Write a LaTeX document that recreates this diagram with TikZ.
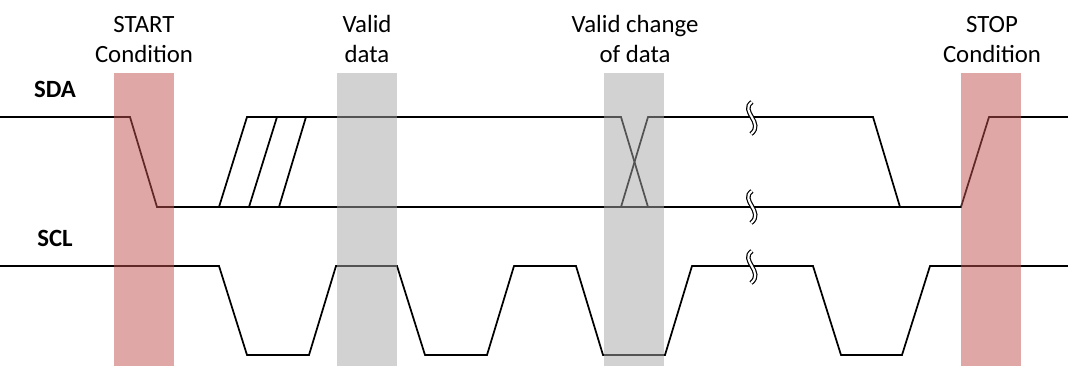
\documentclass[tikz,border=0pt]{standalone}
\usepackage{fontspec}
\setmainfont{Carlito}
\usepackage{tikz}
\usetikzlibrary{positioning, calc}
\colorlet{lineColor}{black}
\definecolor{condColor}{RGB}{192,80,77}
\definecolor{dataColor}{RGB}{166,166,166}
\tikzstyle{wave}=[draw=lineColor, line width=1.3pt, line join=miter]
\tikzstyle{condBar}=[fill=condColor, fill opacity=0.5]
\tikzstyle{dataBar}=[fill=dataColor, fill opacity=0.5]
\tikzstyle{barLabel}=[align=center, font=\fontsize{18.6}{22.5}\selectfont, anchor=base]
\tikzstyle{sigLabel}=[font=\fontsize{18.6}{22.5}\selectfont\bfseries]
\tikzstyle{breakMark}=[draw=lineColor, line width=0.9pt, double=white, double distance=1.6pt]

\begin{document}
\begin{tikzpicture}[x=0.75pt, y=-0.75pt]
      \useasboundingbox (0,0) rectangle (1068,366);
      % signal names
      \node(sda) [sigLabel] at (55,89) {SDA};
      \node(scl) [sigLabel] at (55,238) {SCL};
      % SDA
      \draw [wave] (0,117) -- (130,117) -- (157,207) -- (961,207) -- (989,117) -- (1068,117);
      \draw [wave] (219,207) -- (247,117) -- (621,117) -- (648,207);
      \draw [wave] (249,207) -- (277,117);
      \draw [wave] (279,207) -- (306,117);
      \draw [wave] (621,207) -- (648,117) -- (873,117) -- (900,207);
      % SCL
      \draw [wave] (0,266) -- (219,266) -- (247,355) -- (309,355) -- (336,266)
        -- (397,266) -- (425,355) -- (487,355) -- (514,266) -- (576,266)
        -- (603,355) -- (665,355) -- (692,266) -- (813,266) -- (841,355)
        -- (902,355) -- (930,266) -- (1068,266);
      % breaks
      \draw [breakMark] (752,102) .. controls (739,111) and (765,123) .. (751,134);
      \draw [breakMark] (752,191) .. controls (739,200) and (765,212) .. (751,223);
      \draw [breakMark] (752,251) .. controls (739,260) and (765,272) .. (751,283);
      % bars
      \fill [condBar] (114,73) rectangle (174,366);
      \fill [dataBar] (337,73) rectangle (397,366);
      \fill [dataBar] (604,73) rectangle (664,366);
      \fill [condBar] (961,73) rectangle (1021,366);
      % labels
      \node(startLbl) [barLabel] at (144,63) {START\\Condition};
      \node(validLbl) [barLabel] at (367,63) {Valid\\data};
      \node(changeLbl) [barLabel] at (635,63) {Valid change\\of data};
      \node(stopLbl) [barLabel] at (992,63) {STOP\\Condition};
    \end{tikzpicture}
\end{document}
